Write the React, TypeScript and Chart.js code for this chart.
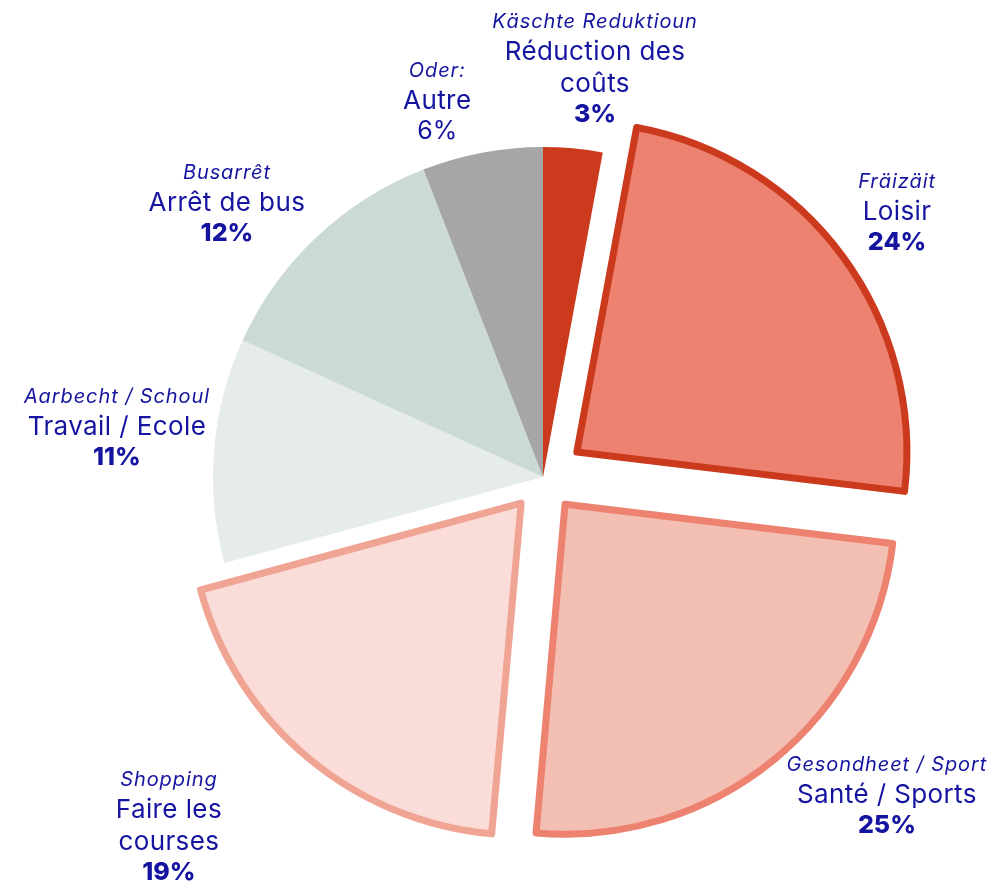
import React, { useEffect, useRef } from "react";
import { Chart, registerables } from "chart.js";

Chart.register(...registerables);

// ---- data ----
const frenchLabels = [
  "Réduction des\ncoûts",
  "Loisir",
  "Santé / Sports",
  "Faire les\ncourses",
  "Travail / Ecole",
  "Arrêt de bus",
  "Autre",
];
const luxLabels = [
  "Käschte Reduktioun",
  "Fräizäit",
  "Gesondheet / Sport",
  "Shopping",
  "Aarbecht / Schoul",
  "Busarrêt",
  "Oder:",
];
// shares in % (labels show rounded values)
const shares = [2.9, 24.0, 24.5, 19.4, 11.0, 12.3, 5.9];

// ---- styling ----
const fillColors = ["#CC3A1E", "#EC826F", "#F4BFB3", "#FADDD8", "#E5ECEA", "#CCDAD5", "#A6A6A6"];
const borderColors = ["#CC3A1E", "#CC3A1E", "#EC826F", "#F0A494", "#E5ECEA", "#CCDAD5", "#A6A6A6"];
const borderWidths = [0, 7, 7, 7, 0, 0, 0];
const explodePx = [0, 42, 35, 34, 0, 0, 0];
const labelAngleShiftDeg = [2.03, -0.44, -8.24, 7.04, 2.02, -5.62, -5.08];
const labelDistanceRatio = [1.249, 1.34, 1.418, 1.55, 1.3, 1.269, 1.184];
const boldPercent = [true, true, true, true, true, true, false];

const TEXT_COLOR = "#1414A0";
const FONT = "Inter, 'Noto Sans', sans-serif";

const labelPlugin = {
  id: "sliceLabels",
  afterDatasetsDraw(chart: any) {
    const ctx = chart.ctx as CanvasRenderingContext2D;
    const meta = chart.getDatasetMeta(0);
    meta.data.forEach((arc: any, i: number) => {
      const { x, y, startAngle, endAngle, outerRadius } = arc.getProps(
        ["x", "y", "startAngle", "endAngle", "outerRadius"],
        true
      );
      const a = (startAngle + endAngle) / 2 + (labelAngleShiftDeg[i] * Math.PI) / 180;
      const d = outerRadius * labelDistanceRatio[i];
      const cx = x + Math.cos(a) * d;
      const cy = y + Math.sin(a) * d;
      const french = frenchLabels[i].split("\n");
      const lines: { text: string; font: string; base: number; spacing: string }[] = [];
      lines.push({ text: luxLabels[i], font: `italic 400 20px ${FONT}`, base: 0, spacing: "0.9px" });
      french.forEach((t, j) => {
        lines.push({ text: t, font: `400 26px ${FONT}`, base: 32 * (j + 1), spacing: "0.4px" });
      });
      const pctBase = 32 * french.length + 30;
      lines.push({
        text: `${Math.round(shares[i])}%`,
        font: `${boldPercent[i] ? 800 : 400} 25px ${FONT}`,
        base: pctBase,
        spacing: "0px",
      });
      const top = -14.5;
      const mid = (top + pctBase) / 2;
      ctx.save();
      ctx.fillStyle = TEXT_COLOR;
      ctx.textAlign = "center";
      ctx.textBaseline = "alphabetic";
      lines.forEach((l) => {
        ctx.font = l.font;
        (ctx as any).letterSpacing = l.spacing;
        ctx.fillText(l.text, cx, cy - mid + l.base);
      });
      ctx.restore();
    });
  },
};

export default function App() {
  const ref = useRef<HTMLCanvasElement | null>(null);
  useEffect(() => {
    document.body.style.margin = "0";
    if (!ref.current) return;
    const chart = new Chart(ref.current, {
      type: "pie",
      data: {
        labels: frenchLabels,
        datasets: [
          {
            data: shares,
            backgroundColor: fillColors,
            borderColor: borderColors,
            borderWidth: borderWidths,
            borderJoinStyle: "round",
            offset: explodePx.map((p) => p * 4),
            hoverOffset: 0,
            radius: 330,
          } as any,
        ],
      },
      options: {
        responsive: false,
        animation: false,
        radius: 330,
        layout: { padding: { left: 91, top: 67, right: 0, bottom: 0 } },
        plugins: {
          legend: { display: false },
          tooltip: { enabled: false },
        },
        events: [],
      } as any,
      plugins: [labelPlugin],
    });
    return () => chart.destroy();
  }, []);
  return (
    <div style={{ width: 995, height: 887, position: "relative", background: "#fff" }}>
      <canvas ref={ref} width={995} height={887} style={{ display: "block" }} />
    </div>
  );
}
